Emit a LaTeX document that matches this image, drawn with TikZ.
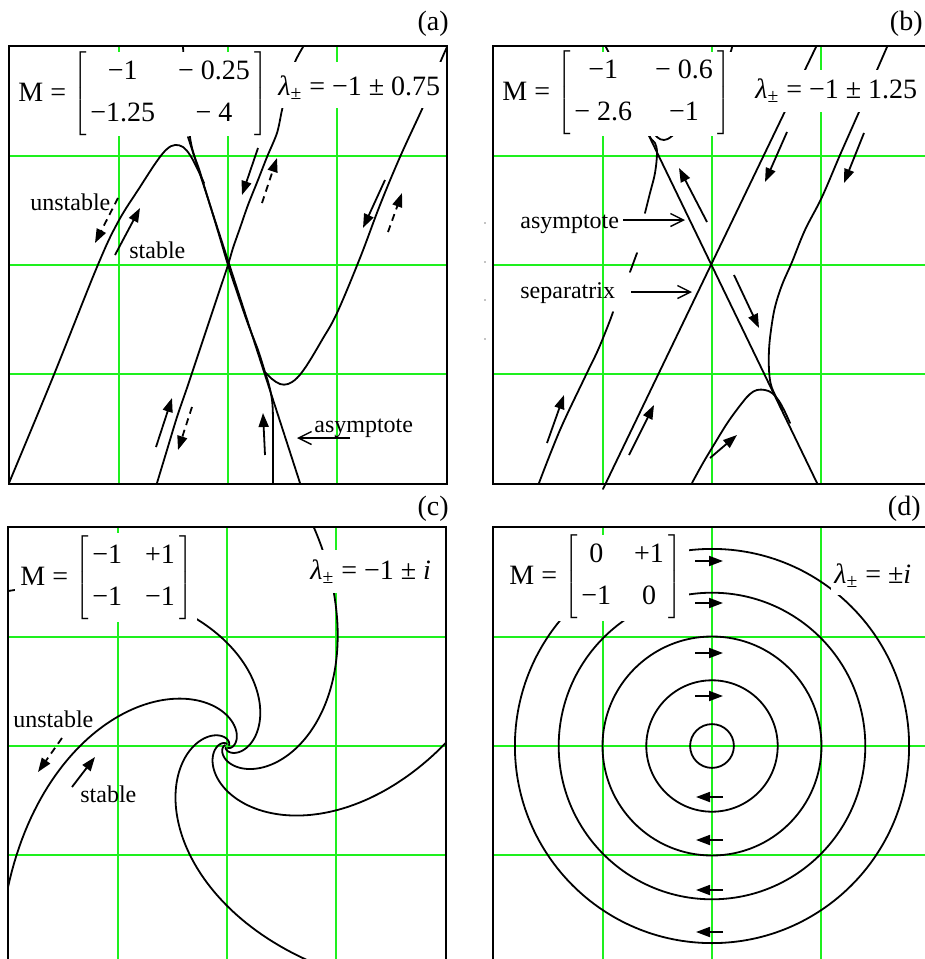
\documentclass[tikz,border=0pt]{standalone}
\usepackage{fontspec}
\setmainfont{Liberation Serif}
\usetikzlibrary{arrows.meta}

\definecolor{gridgreen}{RGB}{30,240,30}

\tikzset{
  frame/.style={black, line width=1.2pt},
  gridline/.style={gridgreen, line width=1pt},
  traj/.style={black, line width=0.9pt, line join=round, line cap=round},
  flow/.style={black, line width=0.9pt, -{Triangle[length=7pt,width=5pt]}},
  flowdash/.style={flow, dash pattern=on 3.5pt off 2.5pt},
  callout/.style={black, line width=0.7pt, -{Straight Barb[length=6.5pt,width=6.5pt]}},
  eqbox/.style={fill=white, anchor=base west, inner ysep=0pt, inner xsep=1.5pt,
    font=\fontsize{14}{17}\selectfont},
  lbl/.style={anchor=base west, inner sep=0pt, font=\fontsize{12}{14}\selectfont},
  tag/.style={anchor=east, inner sep=0pt, font=\fontsize{14}{17}\selectfont},
}

% M = [a b; c d] in the plotting program's look
\newcommand{\phasemat}[4]{M = $\delimiterfactor=1000 \delimitershortfall=0pt
  \left[\begin{tabular}{@{\hspace{2pt}}c@{\hspace{11.5pt}}c@{\hspace{2pt}}}
    #1 & #2 \\[4pt] #3 & #4
  \end{tabular}\right]$}
\newcommand{\lampm}{\textit{λ}\textsubscript{±}}

\begin{document}
\begin{tikzpicture}[x=0.5pt, y=-0.5pt]
  \useasboundingbox (0,0) rectangle (925,959);
  \clip (0,0) rectangle (925,959);

  % grids of the four panels
  \foreach \cx/\cy in {228/265, 712/265, 227/746, 712/746} {
    \foreach \g in {-109,0,109} {
      \draw[gridline] ({\cx+\g},{\cy-219}) -- ({\cx+\g},{\cy+219});
      \draw[gridline] ({\cx-219},{\cy+\g}) -- ({\cx+219},{\cy+\g});
    }
  }

  % (a) trajectories
  \draw[traj] plot[smooth, tension=0.6] coordinates {(9,483) (53,377) (97,267) (118,222) (140,187) (157,161) (167,149) (175,145) (183,147) (190,155) (197,168) (204,183)};
  \draw[traj] plot[smooth, tension=0.5] coordinates {(183,47) (190,137) (200,172) (210,205) (220,238) (228,265) (238,295) (248,324) (258,350) (265,372) (269,385) (272,400) (273,420) (273,483)};
  \draw[traj] (188,137) -- (300,483);
  \draw[traj] plot[smooth, tension=0.5] coordinates {(303,47) (295,62) (288,85) (282,110) (277,133) (267,157) (258,180) (248,205) (240,228) (233,248) (228,265) (218,295) (208,325) (198,355) (188,385) (177,417) (167,450) (157,483)};
  \draw[traj] plot[smooth, tension=0.6] coordinates {(447,47) (440,63) (432,85) (423,107) (400,157) (380,205) (360,258) (337,313) (322,340) (307,365) (297,378) (288,384) (280,384) (272,379) (266,373)};

  % (b) trajectories
  \draw[traj] (606,47) -- (817,483);
  \draw[traj] (816,47) -- (603,489);
  \draw[traj] plot[smooth, tension=0.6] coordinates {(887,47) (877,70) (868,91) (859,112) (840,155) (822,197) (805,230) (792,262) (782,285) (775,307) (771,330) (769,350) (769,370) (771,385) (776,397) (782,410)};
  \draw[traj] plot[smooth, tension=0.6] coordinates {(692,483) (703,463) (715,443) (728,422) (742,403) (750,394) (757,390) (765,390) (772,393) (779,401) (785,412) (790,423)};
  \draw[traj] plot[smooth, tension=0.6] coordinates {(539,483) (560,430) (585,377) (598,350) (609,323) (613,312)};
  \draw[traj] (630,272) -- (637,253);
  \draw[traj] plot[smooth, tension=0.6] coordinates {(645,213) (650,193) (655,173) (657,153) (655,143) (650,137) (640,115)};
  \draw[traj] plot[smooth, tension=0.6] coordinates {(732,47) (727,60) (705,95) (685,122) (672,136) (664,140) (657,137) (650,128)};

  % (c) spiral arms r = c e^{phi}
  \begin{scope}[shift={(227,746)}, x=54.75pt, y=54.75pt]
    \clip (-2.009,-2.3) rectangle (2.009,1.991);
    \foreach \sc/\ta/\tb in {0.652/-3.5/1.3, 0.058/-1.1/3.95, 0.196/-2.3/2.7, 0.0131/0.4/5.4, 1.97/-4.6/0.2}
      \draw[traj, domain=\ta:\tb, samples=200, variable=\phase]
        plot ({\sc*exp(\phase)*cos(\phase r)}, {\sc*exp(\phase)*sin(\phase r)});
  \end{scope}

  % (d) closed orbits
  \begin{scope}[shift={(712,746)}, x=54.75pt, y=54.75pt]
    \foreach \rr in {0.2,0.6,1.0,1.4,1.8}
      \draw[traj] (0,0) circle (\rr);
  \end{scope}

  % equations
  \node[eqbox, text height=24.5pt, text depth=17.5pt] (matA) at (15,101)
    {\phasemat{−1}{− 0.25}{−1.25}{− 4}};
  \node[eqbox, text height=16.5pt, text depth=6.5pt] (lamA) at (275,95)
    {\lampm{} = −1 ± 0.75};
  \node[eqbox, text height=24pt, text depth=18pt] (matB) at (499,100)
    {\phasemat{−1}{− 0.6}{− 2.6}{−1}};
  \node[eqbox, text height=14pt, text depth=7pt] (lamB) at (752,98)
    {\lampm{} = −1 ± 1.25};
  \node[eqbox, text height=26pt, text depth=18.5pt, inner xsep=2.5pt] (matC) at (15,585)
    {\phasemat{−1}{+1}{−1}{−1}};
  \node[eqbox, text height=14.5pt, text depth=7pt] (lamC) at (307,579)
    {\lampm{} = −1 ± \textit{i}};
  \node[eqbox, text height=24.5pt, text depth=18.5pt, inner xsep=4pt] (matD) at (501,584)
    {\phasemat{0}{+1}{−1}{0}};
  \node[eqbox, text height=11.5pt, text depth=6pt] (lamD) at (831,583)
    {\lampm{} = ±\textit{i}};

  % flow arrows
  \foreach \ax/\ay/\bx/\by in {115/255/140/208, 258/148/242/195, 385/180/363/228, 156/447/172/398, 265/455/263/413,
      787/132/765/182, 864/133/844/183, 707/222/679/168, 734/275/759/328, 547/443/564/395, 629/455/654/405, 710/458/737/435,
      72/787/95/757}
    \draw[flow] (\ax,\ay) -- (\bx,\by);
  \foreach \ax/\ay/\bx/\by in {118/198/95/243, 262/203/277/158, 388/232/402/193, 192/407/178/450, 62/738/38/772}
    \draw[flowdash] (\ax,\ay) -- (\bx,\by);
  \foreach \y in {561,603,653,696}
    \draw[flow] (695,\y) -- (723,\y);
  \foreach \y in {797,840,890,932}
    \draw[flow] (723,\y) -- (696,\y);

  % labels and callouts
  \node[lbl] (unstA) at (30,210) {unstable};
  \node[lbl] (stabA) at (129,258) {stable};
  \node[lbl] (asymA) at (314,432) {asymptote};
  \coordinate (asymAtip) at (297,438);
  \draw[callout] ([shift={(36,6)}]asymA.base west) -- (asymAtip);

  \node[lbl] (asymB) at (520,228) {asymptote};
  \coordinate (asymBtip) at (685,220);
  \draw[callout, shorten <=2pt] (asymB.east |- asymBtip) -- (asymBtip);
  \node[lbl] (sepB) at (520,298) {separatrix};
  \coordinate (sepBtip) at (692,292);
  \draw[callout, shorten <=8pt] (sepB.east |- sepBtip) -- (sepBtip);

  \node[lbl] (unstC) at (13,727) {unstable};
  \node[lbl] (stabC) at (80,802) {stable};

  % stray dots left of panel (b)
  \foreach \y in {223,262,300,339}
    \fill (485,\y) circle (0.7);

  % frames and panel tags
  \foreach \cx/\cy in {228/265, 712/265, 227/746, 712/746}
    \draw[frame] ({\cx-219},{\cy-219}) rectangle ({\cx+219},{\cy+219});
  \node[tag] (tagA) at (449,24) {(a)};
  \node[tag] (tagB) at (923,24) {(b)};
  \node[tag] (tagC) at (449,509) {(c)};
  \node[tag] (tagD) at (921,509) {(d)};
\end{tikzpicture}
\end{document}
